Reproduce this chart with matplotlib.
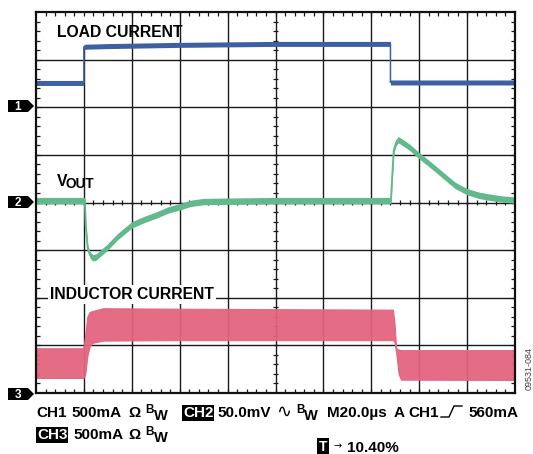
import matplotlib
matplotlib.use("Agg")
import matplotlib.pyplot as plt
from matplotlib.patches import Polygon
import numpy as np

plt.rcParams['font.family'] = ['Liberation Sans', 'DejaVu Sans']

# ---------------- data (read from the scope shot) ----------------
# time axis in microseconds (20 us/div, 10 divisions)
t_load = [0, 20.0, 20.0, 30, 60, 100, 140, 148.0, 148.0, 200]
load_mA = [255, 255, 635, 642, 655, 665, 665, 665, 260, 260]          # CH1, 500 mA/div

t_vout = [0, 20.4, 20.8, 21.6, 22.6, 23.6, 25.0, 27.0, 29.6, 34, 40, 45, 50.4, 55,
          60, 64.4, 70, 100, 147.6, 148.2, 148.8, 149.4, 150.4, 151.2, 152.5, 156,
          159.6, 166, 171.4, 175, 179.8, 185, 189.6, 195, 200]
vout_mV = [2, 2, -25, -48, -55, -58, -57.5, -53, -47.5, -36, -23.5, -18, -13, -8,
           -4.5, -1, 1, 2, 2, 2, 30, 55, 63, 66, 64, 58,
           50, 37, 25.5, 18, 11.5, 7.5, 5.5, 3.5, 2.5]                 # CH2, 50 mV/div

t_ind = [0, 19.8, 20.6, 21.4, 22.4, 23.4, 28, 60, 100, 149.0, 149.6, 150.4, 151.4, 152.4, 200]
ind_hi_mA = [470, 470, 620, 800, 850, 860, 890, 885, 880, 875, 760, 470, 455, 450, 450]
ind_lo_mA = [158, 158, 200, 380, 490, 525, 550, 555, 555, 555, 540, 420, 200, 140, 137]  # CH3, 500 mA/div

# channel settings
T_DIV = 20.0
CH1_DIV, CH1_GND = 500.0, 6.0
CH2_DIV, CH2_GND = 50.0, 4.0
CH3_DIV, CH3_GND = 500.0, 0.0

BLUE = '#3d5fa3'
GREEN = '#62b98d'
PINK = '#e3657e'

W, H = 533, 454
fig = plt.figure(figsize=(W / 100, H / 100), dpi=100)
L, R, T, B = 36, 515, 12, 393
ax = fig.add_axes([L / W, 1 - B / H, (R - L) / W, (B - T) / H])
ax.set_xlim(0, 10)
ax.set_ylim(0, 8)
ax.set_xticks([]); ax.set_yticks([])
for s in ax.spines.values():
    s.set_linewidth(1.6)
    s.set_color('#111111')
    s.set_zorder(6)

px_x = 10 / (R - L)   # divisions per pixel
px_y = 8 / (B - T)

# grid
gc = '#1a1a1a'
for i in range(1, 10):
    if i == 1:
        ax.plot([i, i], [0, 7.25], color=gc, lw=1.0, zorder=1)
    else:
        ax.axvline(i, color=gc, lw=1.0, zorder=1)
for j in range(1, 8):
    ax.axhline(j, color=gc, lw=1.0, zorder=1)

# minor ticks
segs = []
tl = 4
for k in range(1, 50):
    x = k * 0.2
    segs.append(([x, x], [8, 8 - tl * px_y]))
    segs.append(([x, x], [0, tl * px_y]))
    segs.append(([x, x], [4 - 2.5 * px_y, 4 + 2.5 * px_y]))
for k in range(1, 40):
    y = k * 0.2
    segs.append(([0, tl * px_x], [y, y]))
    segs.append(([10, 10 - tl * px_x], [y, y]))
    segs.append(([5 - 2.5 * px_x, 5 + 2.5 * px_x], [y, y]))
for xs, ys in segs:
    ax.plot(xs, ys, color=gc, lw=0.9, zorder=1, solid_capstyle='butt')

# traces
tl_ = np.array(t_load) / T_DIV
yl = CH1_GND + np.array(load_mA) / CH1_DIV
ax.fill_between(tl_, yl - 2.5 * px_y, yl + 2.5 * px_y, color=BLUE, lw=0, zorder=3)
ax.plot(tl_, yl, color=BLUE, lw=1.1, zorder=3)

tv = np.array(t_vout) / T_DIV
yv = CH2_GND + np.array(vout_mV) / CH2_DIV
ax.fill_between(tv, yv - 3.2 * px_y, yv + 3.2 * px_y, color=GREEN, lw=0, zorder=3)
ax.plot(tv, yv, color=GREEN, lw=1.4, zorder=3)

ti = np.array(t_ind) / T_DIV
yhi = CH3_GND + np.array(ind_hi_mA) / CH3_DIV
ylo = CH3_GND + np.array(ind_lo_mA) / CH3_DIV
ax.fill_between(ti, ylo, yhi, color=PINK, lw=0.8, edgecolor=PINK, alpha=0.95, zorder=3)


def fx(x):
    return x / W


def fy(y):
    return 1 - y / H


# channel markers
def marker(py, label):
    pts = [(8, py - 6), (28, py - 6), (34, py), (28, py + 6), (8, py + 6)]
    fig.add_artist(Polygon([(fx(a), fy(b)) for a, b in pts], closed=True,
                           transform=fig.transFigure, facecolor='black',
                           edgecolor='none', zorder=10))
    fig.text(fx(18), fy(py + 0.5), label, color='white', fontsize=8.5,
             fontweight='bold', ha='center', va='center', zorder=11)


marker(106, '1')
marker(202, '2')
marker(394, '3')

# labels on screen
fig.text(fx(57), fy(37), 'LOAD CURRENT', fontsize=11.3, fontweight='bold',
         ha='left', va='baseline', zorder=12)
fig.text(fx(50), fy(299), 'INDUCTOR CURRENT', fontsize=11.3, fontweight='bold',
         ha='left', va='baseline', zorder=12,
         bbox=dict(facecolor='white', edgecolor='none', pad=1.5))
fig.text(fx(57), fy(186), 'V', fontsize=11.3, fontweight='bold',
         ha='left', va='baseline', zorder=12)
fig.text(fx(66), fy(188.5), 'OUT', fontsize=9.8, fontweight='bold',
         ha='left', va='baseline', zorder=12)

# bottom readout
fs = 11
def txt(x, y, s, size=fs, **kw):
    fig.text(fx(x), fy(y), s, fontsize=size, fontweight='bold', ha='left',
             va='baseline', zorder=12, **kw)

boxkw = dict(facecolor='black', edgecolor='none', pad=0.6)
txt(36, 417, 'CH1')
txt(71, 417, '500mA')
txt(128, 417, '\u03A9')
txt(145, 413, 'B', size=8.5)
txt(154, 420.5, 'W', size=10.5)
txt(183, 417, 'CH2', color='white', bbox=boxkw)
txt(217, 417, '50.0mV')
fig.text(fx(276), fy(417), '\u223F', fontsize=13, ha='left', va='baseline',
         family=['DejaVu Sans'], zorder=12)
txt(296, 413, 'B', size=8.5)
txt(304, 420.5, 'W', size=10.5)
txt(327, 417, 'M20.0\u00B5s')
txt(394, 417, 'A')
txt(408, 417, 'CH1')
# trigger edge symbol
ex = [441, 449, 454, 462]
ey = [417, 417, 406, 406]
fig.add_artist(plt.Line2D([fx(a) for a in ex], [fy(b) for b in ey],
                          transform=fig.transFigure, color='black', lw=1.0))
fig.text(fx(518), fy(417), '560mA', fontsize=fs, fontweight='bold', ha='right',
         va='baseline', zorder=12)

txt(37, 439, 'CH3', color='white', bbox=boxkw)
txt(73, 439, '500mA')
txt(128, 439, '\u03A9')
txt(145, 435, 'B', size=8.5)
txt(154, 442.5, 'W', size=10.5)

txt(319, 451, 'T', size=10, color='white', bbox=dict(facecolor='black', edgecolor='none', pad=1.2))
fig.text(fx(333), fy(446), '\u2192', fontsize=7, ha='left', va='center', zorder=12,
         family=['DejaVu Sans'])
txt(347, 452, '10.40%')

fig.text(fx(529), fy(368), '09531-084', fontsize=6.5, rotation=90, color='#444444',
         ha='center', va='center')

fig.savefig('out.png', dpi=100)
